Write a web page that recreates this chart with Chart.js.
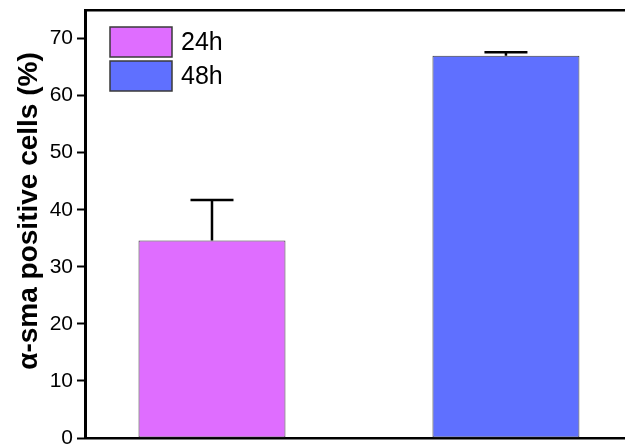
<!DOCTYPE html>
<html>
<head>
<meta charset="utf-8">
<script src="https://cdn.jsdelivr.net/npm/chart.js@4.4.1/dist/chart.umd.min.js"></script>
<style>
  html, body { margin: 0; padding: 0; background: #fff; overflow: hidden; }
  #wrap { width: 625px; height: 448px; }
</style>
</head>
<body>
<div id="wrap"><canvas id="c" width="625" height="448"></canvas></div>
<script>
// Groups, their x positions, means and upper error values
const groups = ['24h', '48h'];
const positions = [1, 2];
const means = [34.6, 67.0];
const errors = [7.1, 0.6];
const barColors = ['#DF6DFF', '#5F70FF'];
const yTicks = [0, 10, 20, 30, 40, 50, 60, 70];
const yTitle = 'α-sma positive cells (%)';

const FONT = "Arial, 'Liberation Sans', sans-serif";

const datasets = groups.map((g, i) => ({
  label: g,
  data: [{ x: positions[i], y: means[i] }],
  backgroundColor: barColors[i],
  borderColor: '#3a3a3a',
  borderWidth: 1,
  borderSkipped: false,
  grouped: false,
  barPercentage: 0.5,
  categoryPercentage: 1.0
}));

// Upper error bars with caps
const errorBars = {
  id: 'errorBars',
  afterDatasetsDraw(chart) {
    const { ctx, scales: { x, y } } = chart;
    ctx.save();
    ctx.strokeStyle = '#000';
    ctx.lineWidth = 2.5;
    groups.forEach((g, i) => {
      const px = x.getPixelForValue(positions[i]);
      const top = y.getPixelForValue(means[i]);
      const hi = y.getPixelForValue(means[i] + errors[i]);
      ctx.beginPath();
      ctx.moveTo(px, top);
      ctx.lineTo(px, hi);
      ctx.moveTo(px - 21.5, hi);
      ctx.lineTo(px + 21.5, hi);
      ctx.stroke();
    });
    ctx.restore();
  }
};

// Legend boxes in the upper-left of the plot, plus the rotated y title
const decorations = {
  id: 'decorations',
  afterDraw(chart) {
    const { ctx } = chart;
    ctx.save();
    groups.forEach((g, i) => {
      const bx = 110, by = 27 + i * 34, bw = 62, bh = 30;
      ctx.fillStyle = barColors[i];
      ctx.fillRect(bx, by, bw, bh);
      ctx.strokeStyle = '#3a3a3a';
      ctx.lineWidth = 1.5;
      ctx.strokeRect(bx, by, bw, bh);
      ctx.fillStyle = '#000';
      ctx.font = '25px ' + FONT;
      ctx.textAlign = 'left';
      ctx.textBaseline = 'middle';
      ctx.fillText(g, bx + bw + 9, by + bh / 2 + 1);
    });
    ctx.translate(37, 211);
    ctx.rotate(-Math.PI / 2);
    ctx.fillStyle = '#000';
    ctx.font = 'bold 28px ' + FONT;
    ctx.textAlign = 'center';
    ctx.textBaseline = 'alphabetic';
    ctx.fillText(yTitle, 0, 0);
    ctx.restore();
  }
};

const xScale = (pos) => ({
  type: 'linear',
  min: 0.568,
  max: 2.405,
  position: pos,
  offset: false,
  afterBuildTicks(s) { s.ticks = positions.map(v => ({ value: v })); },
  ticks: { display: false },
  grid: { display: false, drawTicks: false, offset: false },
  border: { display: true, color: '#000', width: 2.5 },
  afterFit(s) {
    s.height = pos === 'bottom' ? 10 : 0;
    s.paddingLeft = 0; s.paddingRight = 0;
  }
});

new Chart(document.getElementById('c'), {
  type: 'bar',
  data: { datasets },
  plugins: [errorBars, decorations],
  options: {
    responsive: false,
    animation: false,
    layout: { padding: { left: 0, right: 0, top: 10, bottom: 0 } },
    plugins: { legend: { display: false }, tooltip: { enabled: false } },
    scales: {
      x: xScale('bottom'),
      xTop: xScale('top'),
      y: {
        min: 0,
        max: 75,
        afterBuildTicks(s) { s.ticks = yTicks.map(v => ({ value: v })); },
        ticks: {
          color: '#000',
          font: { family: FONT, size: 21 },
          padding: 4
        },
        grid: {
          drawOnChartArea: false,
          drawTicks: true,
          tickLength: 8,
          tickWidth: 2,
          tickColor: '#000'
        },
        border: { display: true, color: '#000', width: 3 },
        afterFit(s) {
          s.width = 85;
          s.paddingTop = 0; s.paddingBottom = 0;
        }
      }
    }
  }
});
</script>
</body>
</html>
